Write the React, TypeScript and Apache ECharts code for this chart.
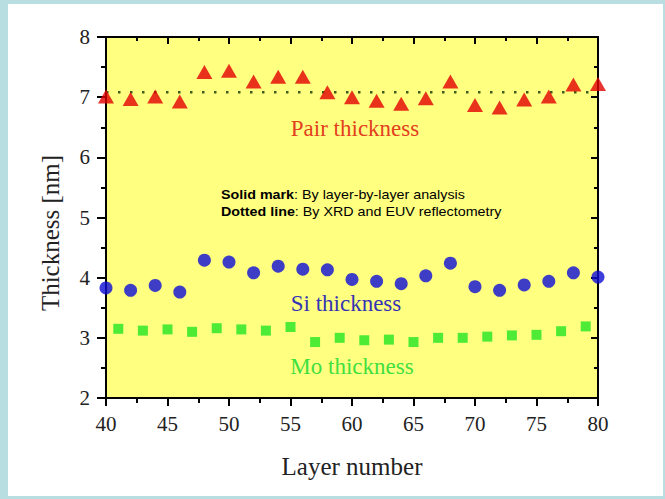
import React, { useEffect, useRef } from "react";
import * as echarts from "echarts";

const pairLayers = [40, 42, 44, 46, 48, 50, 52, 54, 56, 58, 60, 62, 64, 66, 68, 70, 72, 74, 76, 78, 80];
const pairThickness = [7.01, 6.97, 7.01, 6.93, 7.42, 7.44, 7.26, 7.34, 7.34, 7.08, 7.0, 6.94, 6.89, 6.98, 7.26, 6.87, 6.83, 6.96, 7.01, 7.21, 7.22];
const siLayers = [40, 42, 44, 46, 48, 50, 52, 54, 56, 58, 60, 62, 64, 66, 68, 70, 72, 74, 76, 78, 80];
const siThickness = [3.83, 3.79, 3.87, 3.76, 4.29, 4.26, 4.08, 4.19, 4.14, 4.13, 3.97, 3.94, 3.9, 4.03, 4.24, 3.85, 3.79, 3.88, 3.94, 4.08, 4.01];
const moLayers = [41, 43, 45, 47, 49, 51, 53, 55, 57, 59, 61, 63, 65, 67, 69, 71, 73, 75, 77, 79];
const moThickness = [3.15, 3.12, 3.14, 3.1, 3.16, 3.14, 3.12, 3.18, 2.93, 3.0, 2.96, 2.97, 2.93, 3.0, 3.0, 3.02, 3.04, 3.05, 3.11, 3.19];
const xrdLayers = [40, 80];
const xrdPairThickness = 7.08;

const xMin = 40, xMax = 80, xInterval = 5;
const yMin = 2, yMax = 8, yInterval = 1;

const serif = "Liberation Serif, Times New Roman, serif";

export default function App() {
  const ref = useRef<HTMLDivElement>(null);
  useEffect(() => {
    document.body.style.margin = "0";
    const chart = echarts.init(ref.current!, null, { renderer: "svg" });
    const axisLine = { show: true, onZero: false, lineStyle: { color: "#000", width: 2 } };
    chart.setOption({
      animation: false,
      backgroundColor: "#b8dee1",
      grid: {
        left: 106, right: 67, top: 37, bottom: 101,
        show: true, backgroundColor: "#ffff80", borderWidth: 0,
      },
      graphic: [
        { type: "rect", z: -10, shape: { x: 8, y: 4, width: 655, height: 492 }, style: { fill: "#ffffff" } },
        {
          type: "text", x: 50, y: 233, rotation: Math.PI / 2,
          style: { text: "Thickness [nm]", font: `25px ${serif}`, fill: "#222", textAlign: "center", textVerticalAlign: "middle" },
        },
        {
          type: "text", x: 355, y: 128, z: 10,
          style: { text: "Pair thickness", font: `23px ${serif}`, fill: "#e2401e", textAlign: "center", textVerticalAlign: "middle" },
        },
        {
          type: "text", x: 346, y: 303, z: 10,
          style: { text: "Si thickness", font: `23px ${serif}`, fill: "#3434b4", textAlign: "center", textVerticalAlign: "middle" },
        },
        {
          type: "text", x: 352, y: 366, z: 10,
          style: { text: "Mo thickness", font: `23px ${serif}`, fill: "#3fe03f", textAlign: "center", textVerticalAlign: "middle" },
        },
        {
          type: "text", x: 221, y: 186, z: 10, scaleX: 1.1,
          style: {
            text: "{b|Solid mark}: By layer-by-layer analysis\n{b|Dotted line}: By XRD and EUV reflectometry",
            font: "13px Liberation Sans, Arial, sans-serif",
            fill: "#000",
            lineHeight: 17,
            rich: {
              b: { fontWeight: "bold", fontSize: 13, fontFamily: "Liberation Sans, Arial, sans-serif", fill: "#000", lineHeight: 17 },
            },
          },
        },
      ],
      xAxis: [
        {
          type: "value", min: xMin, max: xMax, interval: xInterval, position: "bottom",
          axisLine, splitLine: { show: false },
          axisTick: { show: true, inside: false, length: 8, lineStyle: { color: "#000", width: 2 } },
          minorTick: { show: true, splitNumber: 2, length: 5, lineStyle: { color: "#000", width: 2 } },
          axisLabel: { fontFamily: serif, fontSize: 21, color: "#222", margin: 15 },
          name: "Layer number", nameLocation: "middle", nameGap: 56,
          nameTextStyle: { fontFamily: serif, fontSize: 25, color: "#222" },
        },
        {
          type: "value", min: xMin, max: xMax, interval: xInterval, position: "top",
          axisLine, splitLine: { show: false },
          axisTick: { show: true, inside: true, length: 7, lineStyle: { color: "#000", width: 2 } },
          minorTick: { show: true, splitNumber: 2, length: 4, lineStyle: { color: "#000", width: 2 } },
          axisLabel: { show: false },
        },
      ],
      yAxis: [
        {
          type: "value", min: yMin, max: yMax, interval: yInterval, position: "left",
          axisLine, splitLine: { show: false },
          axisTick: { show: true, inside: false, length: 9, lineStyle: { color: "#000", width: 2 } },
          minorTick: { show: true, splitNumber: 2, length: 5, lineStyle: { color: "#000", width: 2 } },
          axisLabel: { fontFamily: serif, fontSize: 21, color: "#222", margin: 16 },
        },
        {
          type: "value", min: yMin, max: yMax, interval: yInterval, position: "right",
          axisLine, splitLine: { show: false },
          axisTick: { show: true, inside: true, length: 7, lineStyle: { color: "#000", width: 2 } },
          minorTick: { show: true, splitNumber: 2, length: 4, lineStyle: { color: "#000", width: 2 } },
          axisLabel: { show: false },
        },
      ],
      series: [
        {
          type: "line", xAxisIndex: 0, yAxisIndex: 0,
          data: xrdLayers.map((x) => [x, xrdPairThickness]),
          symbol: "none", z: 1,
          lineStyle: { color: "#3e5a1e", width: 2.5, type: [2.5, 9.5], cap: "butt" },
        },
        {
          type: "scatter", xAxisIndex: 0, yAxisIndex: 0, symbol: "triangle", symbolSize: [16, 14],
          itemStyle: { color: "#e20000" }, z: 3,
          data: pairLayers.map((x, i) => [x, pairThickness[i]]),
        },
        {
          type: "scatter", xAxisIndex: 0, yAxisIndex: 0, symbol: "circle", symbolSize: 13,
          itemStyle: { color: "#0c0cd6" }, z: 3,
          data: siLayers.map((x, i) => [x, siThickness[i]]),
        },
        {
          type: "scatter", xAxisIndex: 0, yAxisIndex: 0, symbol: "rect", symbolSize: 10,
          itemStyle: { color: "#22e622" }, z: 3,
          data: moLayers.map((x, i) => [x, moThickness[i]]),
        },
      ],
    });
    return () => chart.dispose();
  }, []);
  return <div ref={ref} style={{ width: 665, height: 499 }} />;
}
